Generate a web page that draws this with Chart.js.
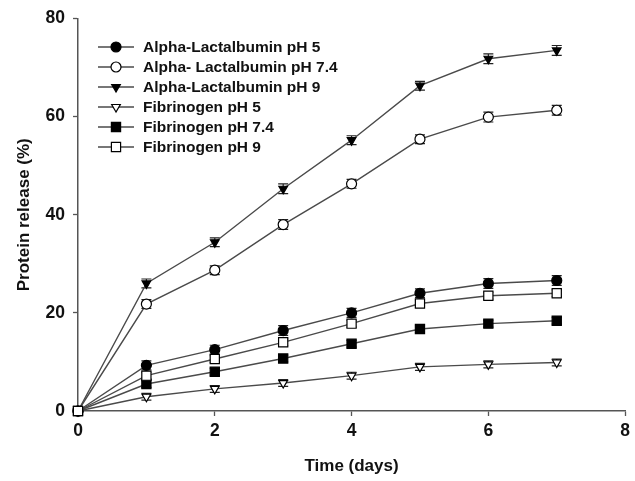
<!DOCTYPE html>
<html>
<head>
<meta charset="utf-8">
<script src="https://cdn.jsdelivr.net/npm/chart.js@4.4.1/dist/chart.umd.min.js"></script>
<style>
  html, body { margin: 0; padding: 0; background: #fff; }
  #wrap { width: 635px; height: 481px; }
</style>
</head>
<body>
<div id="wrap"><canvas id="chart" width="635" height="481"></canvas></div>
<script>
// 时间点（天）
var days = [0, 1, 2, 3, 4, 5, 6, 7];

// 各系列释放量（%）
var alphaPH5   = [0, 9.3, 12.5, 16.4, 20.0, 24.0, 26.0, 26.6];
var alphaPH74  = [0, 21.8, 28.7, 38.0, 46.3, 55.4, 59.9, 61.3];
var alphaPH9   = [0, 26.0, 34.4, 45.3, 55.2, 66.3, 71.8, 73.5];
var fibPH5     = [0, 2.9, 4.5, 5.7, 7.2, 9.0, 9.5, 9.9];
var fibPH74    = [0, 5.5, 8.0, 10.7, 13.7, 16.7, 17.8, 18.4];
var fibPH9     = [0, 7.2, 10.6, 14.0, 17.8, 21.9, 23.5, 24.0];

// 误差（标准差）
var errSmall = [0, 0.7, 0.7, 0.7, 0.7, 0.7, 0.7, 0.7];
var errLarge = [0, 0.9, 0.9, 1.0, 0.9, 0.9, 1.0, 1.0];

var seriesNames = [
  'Alpha-Lactalbumin pH 5',
  'Alpha- Lactalbumin pH 7.4',
  'Alpha-Lactalbumin pH 9',
  'Fibrinogen pH 5',
  'Fibrinogen pH 7.4',
  'Fibrinogen pH 9'
];

var xTicks = [0, 2, 4, 6, 8];
var yTicks = [0, 20, 40, 60, 80];

var FONT = '"Liberation Sans", Arial, sans-serif';
var lineColor = '#4a4a4a';

function toPoints(ys) {
  return ys.map(function(y, i) { return { x: days[i], y: y }; });
}

function makeSet(idx, ys, err, style, rot, filled) {
  return {
    label: seriesNames[idx],
    data: toPoints(ys),
    errors: err,
    order: -idx,
    borderColor: lineColor,
    borderWidth: 1.4,
    pointStyle: style,
    rotation: rot,
    pointRadius: style === 'rect' ? 6.5 : 5,
    pointBorderWidth: 1.2,
    pointBorderColor: '#000',
    pointBackgroundColor: filled ? '#000' : '#fff',
    fill: false,
    tension: 0,
    clip: false
  };
}

var datasets = [
  makeSet(0, alphaPH5, errLarge, 'circle', 0, true),
  makeSet(1, alphaPH74, errLarge, 'circle', 0, false),
  makeSet(2, alphaPH9, errLarge, 'triangle', 180, true),
  makeSet(3, fibPH5, errSmall, 'triangle', 180, false),
  makeSet(4, fibPH74, errSmall, 'rect', 0, true),
  makeSet(5, fibPH9, errSmall, 'rect', 0, false)
];

// 误差线
var errorBars = {
  id: 'errorBars',
  beforeDatasetsDraw: function(chart) {
    var ctx = chart.ctx;
    var xs = chart.scales.x, ys = chart.scales.y;
    ctx.save();
    ctx.strokeStyle = '#222';
    ctx.lineWidth = 1.2;
    chart.data.datasets.forEach(function(ds) {
      ds.data.forEach(function(p, i) {
        var e = ds.errors[i];
        if (!e) return;
        var px = xs.getPixelForValue(p.x);
        var top = ys.getPixelForValue(p.y + e);
        var bot = ys.getPixelForValue(p.y - e);
        ctx.beginPath();
        ctx.moveTo(px, top); ctx.lineTo(px, bot);
        ctx.moveTo(px - 5, top); ctx.lineTo(px + 5, top);
        ctx.moveTo(px - 5, bot); ctx.lineTo(px + 5, bot);
        ctx.stroke();
      });
    });
    ctx.restore();
  }
};

// 图例：线段 + 标记
var lineLegend = {
  id: 'lineLegend',
  afterDraw: function(chart) {
    var ctx = chart.ctx;
    var x0 = 98, x1 = 134, tx = 143, y0 = 47, dy = 20;
    ctx.save();
    chart.data.datasets.forEach(function(ds, i) {
      var y = y0 + i * dy;
      ctx.strokeStyle = lineColor;
      ctx.lineWidth = 1.4;
      ctx.beginPath();
      ctx.moveTo(x0, y); ctx.lineTo(x1, y);
      ctx.stroke();
      ctx.fillStyle = ds.pointBackgroundColor;
      ctx.strokeStyle = '#000';
      ctx.lineWidth = 1.2;
      Chart.helpers.drawPoint(ctx, {
        pointStyle: ds.pointStyle,
        rotation: ds.rotation,
        radius: ds.pointRadius,
        borderWidth: 1.2
      }, (x0 + x1) / 2, y);
      ctx.fillStyle = '#111';
      ctx.font = 'bold 15.5px ' + FONT;
      ctx.textBaseline = 'middle';
      ctx.textAlign = 'left';
      ctx.fillText(ds.label, tx, y + 1);
    });
    ctx.restore();
  }
};

new Chart(document.getElementById('chart').getContext('2d'), {
  type: 'line',
  data: { datasets: datasets },
  plugins: [errorBars, lineLegend],
  options: {
    responsive: false,
    animation: false,
    layout: { padding: { top: 16, right: 4, left: 10, bottom: 0 } },
    plugins: {
      legend: { display: false },
      tooltip: { enabled: false }
    },
    scales: {
      x: {
        type: 'linear',
        min: 0,
        max: 8,
        afterFit: function(s) { s.height = 70; },
        afterBuildTicks: function(s) { s.ticks = xTicks.map(function(v) { return { value: v }; }); },
        grid: { display: true, drawOnChartArea: false, drawTicks: true, tickLength: 5, color: '#555', tickWidth: 1.3 },
        border: { display: true, color: '#555', width: 1.5 },
        ticks: { color: '#111', font: { family: FONT, size: 17.5, weight: 'bold' }, padding: 5, maxRotation: 0 },
        title: { display: true, text: 'Time (days)', color: '#111', font: { family: FONT, size: 17, weight: 'bold' }, padding: { top: 11 } }
      },
      y: {
        type: 'linear',
        min: 0,
        max: 80,
        afterFit: function(s) { s.width = 68; },
        afterBuildTicks: function(s) { s.ticks = yTicks.map(function(v) { return { value: v }; }); },
        grid: { display: true, drawOnChartArea: false, drawTicks: true, tickLength: 5, color: '#555', tickWidth: 1.3 },
        border: { display: true, color: '#555', width: 1.5 },
        ticks: { color: '#111', font: { family: FONT, size: 17.5, weight: 'bold' }, padding: 8 },
        title: { display: true, text: 'Protein release (%)', color: '#111', font: { family: FONT, size: 17, weight: 'bold' }, padding: { bottom: 4 } }
      }
    }
  }
});
</script>
</body>
</html>
